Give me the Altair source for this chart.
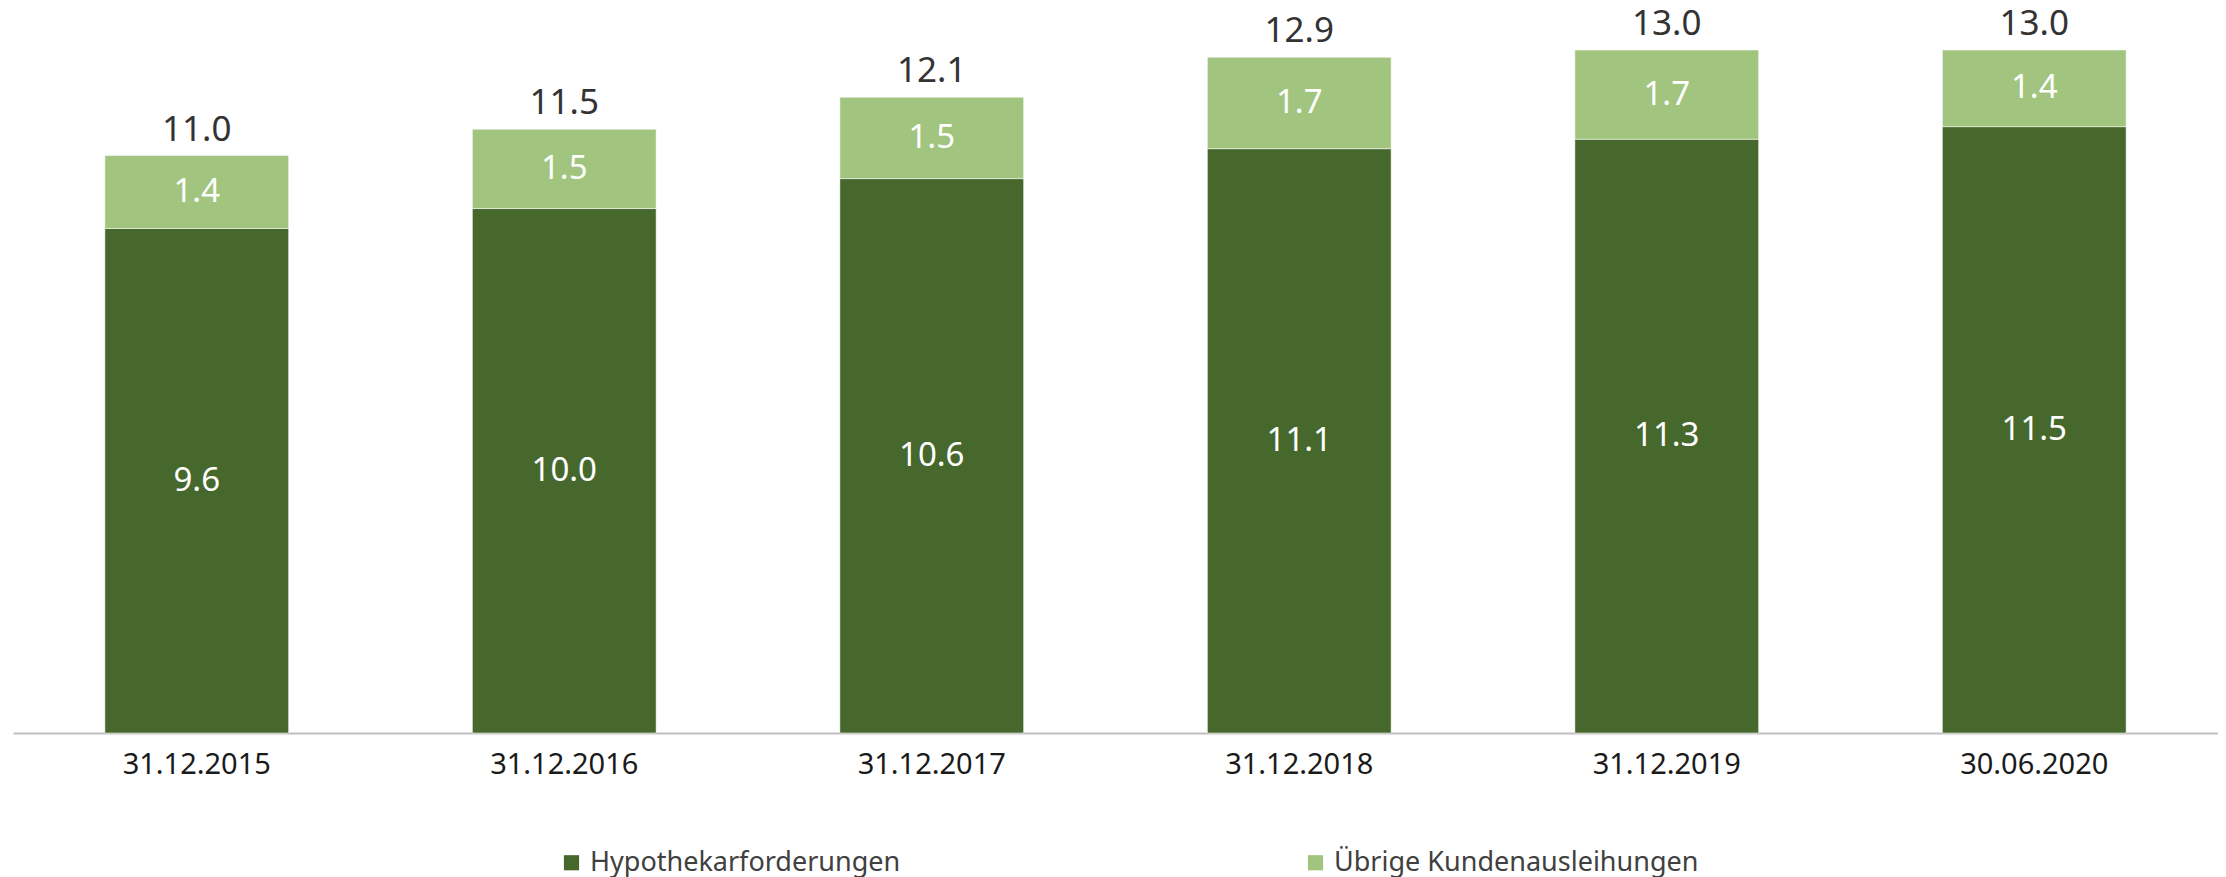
import altair as alt
import pandas as pd

dates = ["31.12.2015", "31.12.2016", "31.12.2017", "31.12.2018", "31.12.2019", "30.06.2020"]
# published (rounded) labels
hypothekar_labels = [9.6, 10.0, 10.6, 11.1, 11.3, 11.5]
uebrige_labels = [1.4, 1.5, 1.5, 1.7, 1.7, 1.4]
total_labels = [11.0, 11.5, 12.1, 12.9, 13.0, 13.0]
# bar heights
hypothekar = [9.61, 9.99, 10.56, 11.13, 11.31, 11.55]
uebrige = [1.39, 1.51, 1.55, 1.74, 1.70, 1.46]
series_names = ["Hypothekarforderungen", "Übrige Kundenausleihungen"]
colors = ["#47682C", "#A1C57F"]

rows = []
for d, h, u, hl, ul in zip(dates, hypothekar, uebrige, hypothekar_labels, uebrige_labels):
    rows.append({"date": d, "series": series_names[0], "value": h, "label": hl, "ord": 0})
    rows.append({"date": d, "series": series_names[1], "value": u, "label": ul, "ord": 1})
df = pd.DataFrame(rows)
tot = pd.DataFrame({"date": dates,
                    "total": [h + u for h, u in zip(hypothekar, uebrige)],
                    "label": total_labels})

FONT = "Noto Sans"
x_enc = alt.X("date:N", sort=dates, title=None,
              scale=alt.Scale(paddingInner=0.5, paddingOuter=0.25),
              axis=alt.Axis(labelAngle=0, ticks=False, domainColor="#BFBFBF", domainWidth=2,
                            labelFontSize=29, labelColor="#1a1a1a", labelFont=FONT,
                            labelPadding=17))
y_scale = alt.Scale(domain=[0, 13.81], nice=False, zero=True)

bars = alt.Chart(df).mark_bar(stroke="#ffffff", strokeWidth=1, strokeOpacity=0.5).encode(
    x=x_enc,
    y=alt.Y("value:Q", stack="zero", scale=y_scale, axis=None),
    color=alt.Color("series:N", scale=alt.Scale(domain=series_names, range=colors),
                    legend=alt.Legend(title=None, orient="none", direction="horizontal",
                                      legendX=545, legendY=841,
                                      symbolType="square", symbolSize=230, symbolStrokeWidth=0,
                                      labelFontSize=27, labelFont=FONT, labelColor="#404040",
                                      labelLimit=0, columnPadding=401, labelOffset=5)),
    order=alt.Order("ord:Q"),
)

inner = alt.Chart(df).transform_stack(
    stack="value", groupby=["date"], as_=["v0", "v1"], sort=[alt.SortField("ord")]
).transform_calculate(mid="(datum.v0 + datum.v1) / 2").mark_text(
    color="white", fontSize=33, font=FONT, baseline="middle"
).encode(
    x=alt.X("date:N", sort=dates),
    y=alt.Y("mid:Q", scale=y_scale),
    text=alt.Text("label:Q", format=".1f"),
)

top = alt.Chart(tot).mark_text(
    color="#333333", fontSize=35, font=FONT, baseline="alphabetic", dy=-15
).encode(
    x=alt.X("date:N", sort=dates),
    y=alt.Y("total:Q", scale=y_scale),
    text=alt.Text("label:Q", format=".1f"),
)

chart = alt.layer(bars, inner, top).properties(
    width=2205, height=725,
    autosize=alt.AutoSizeParams(type="none"),
    padding={"left": 5, "top": 0, "right": 0, "bottom": 144},
).configure_view(stroke=None)

chart.save("out.html", embed_options={"renderer": "svg", "actions": False})
